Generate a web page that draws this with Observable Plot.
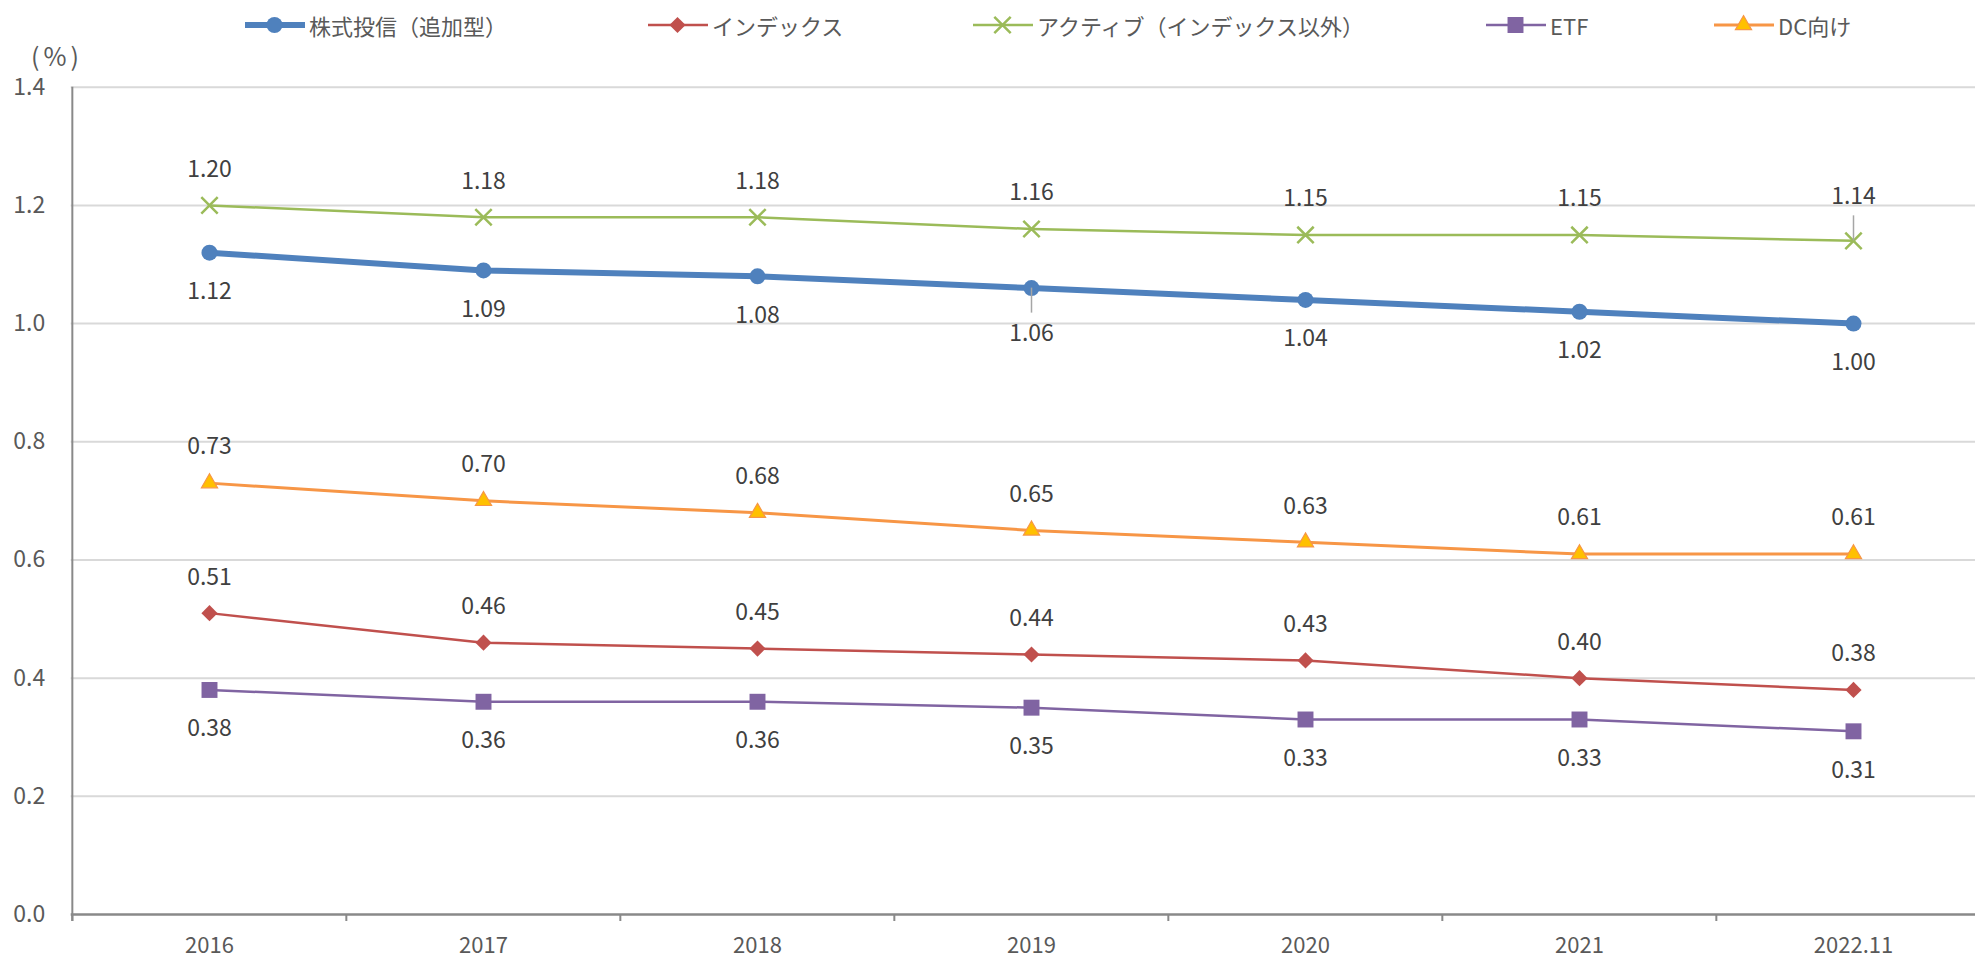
<!DOCTYPE html>
<html>
<head>
<meta charset="utf-8">
<script src="https://cdn.jsdelivr.net/npm/d3@7"></script>
<script src="https://cdn.jsdelivr.net/npm/@observablehq/plot@0.6"></script>
<style>
html, body { margin: 0; padding: 0; background: #fff; overflow: hidden; }
#legend { position: relative; width: 1975px; height: 50px; font-family: "Noto Sans CJK JP", "Noto Sans", sans-serif; font-size: 22px; color: #595959; }
.item { position: absolute; top: 0; height: 50px; display: flex; align-items: center; white-space: nowrap; }
.item svg { display: block; margin-right: 4px; }
#unit { position: absolute; left: 17px; top: 42px; width: 80px; height: 26px; line-height: 26px; text-align: center; font-family: "Noto Sans CJK JP", "Noto Sans", sans-serif; font-size: 25px; letter-spacing: 4px; color: #595959; white-space: nowrap; }
#chart svg { display: block; }
</style>
</head>
<body>
<div id="legend"></div>
<div id="unit">(%)</div>
<div id="chart"></div>
<script>
// ---- data ----
const categories = ["2016", "2017", "2018", "2019", "2020", "2021", "2022.11"];
const stockFunds = [1.12, 1.09, 1.08, 1.06, 1.04, 1.02, 1.00];   // 株式投信（追加型）
const indexFunds = [0.51, 0.46, 0.45, 0.44, 0.43, 0.40, 0.38];   // インデックス
const activeFunds = [1.20, 1.18, 1.18, 1.16, 1.15, 1.15, 1.14];  // アクティブ（インデックス以外）
const etfFunds = [0.38, 0.36, 0.36, 0.35, 0.33, 0.33, 0.31];     // ETF
const dcFunds = [0.73, 0.70, 0.68, 0.65, 0.63, 0.61, 0.61];      // DC向け
const seriesNames = ["株式投信（追加型）", "インデックス", "アクティブ（インデックス以外）", "ETF", "DC向け"];
const yTicks = [0, 0.2, 0.4, 0.6, 0.8, 1.0, 1.2, 1.4];

// ---- styles ----
const FONT = '"Noto Sans CJK JP", "Noto Sans", sans-serif';
const FS = 23;
const series = [
  {name: seriesNames[0], values: stockFunds, color: "#4F81BD", lw: 6, symbol: "circle", r: 8, fill: "#4F81BD", stroke: "none", sw: 0, above: false},
  {name: seriesNames[1], values: indexFunds, color: "#C0504D", lw: 2.5, symbol: "diamond2", r: 7.3, fill: "#C0504D", stroke: "none", sw: 0, above: true},
  {name: seriesNames[2], values: activeFunds, color: "#9BBB59", lw: 2.5, symbol: "times", r: 7.5, fill: "none", stroke: "#9BBB59", sw: 2.5, above: true},
  {name: seriesNames[3], values: etfFunds, color: "#8064A2", lw: 2.5, symbol: "square", r: 9, fill: "#8064A2", stroke: "none", sw: 0, above: false},
  {name: seriesNames[4], values: dcFunds, color: "#F79646", lw: 3, symbol: "triangle", r: 6, fill: "#FFC000", stroke: "#F79646", sw: 1.2, above: true}
];

const rows = series.flatMap(s => categories.map((c, i) => ({cat: c, value: s.values[i], key: s.name})));

// Special callouts (labels pushed further away with leader lines)
const calloutBelow = rows.filter(d => d.key === seriesNames[0] && d.cat === "2019");
const calloutAbove = rows.filter(d => d.key === seriesNames[2] && d.cat === "2022.11");
const isCallout = d => calloutBelow.includes(d) || calloutAbove.includes(d);

// ---- layout ----
const W = 1975, H = 908;
const mL = 70.7, mT = 36.7, mB = 44;
const xRange = [70.7, 1991];
const step = (xRange[1] - xRange[0]) / categories.length;

const marks = [];
marks.push(Plot.gridY(yTicks.filter(t => t > 0), {stroke: "#d9d9d9", strokeOpacity: 1, strokeWidth: 2}));
marks.push(Plot.ruleY([0], {stroke: "#898989", strokeWidth: 2.5}));
marks.push(Plot.ruleX([categories[0]], {x: d => d, y1: 1.4, y2: 0, insetBottom: -7, dx: -step / 2, stroke: "#898989", strokeWidth: 2}));
marks.push(Plot.ruleX(categories, {x: d => d, y1: 0, y2: 0, insetBottom: -7, dx: -step / 2, stroke: "#898989", strokeWidth: 2}));
marks.push(Plot.axisY(yTicks, {tickSize: 0, tickPadding: 26, tickFormat: d => d.toFixed(1), fontSize: FS, fill: "#595959", label: null}));
marks.push(Plot.text(categories, {x: d => d, y: 0, dy: 31, text: d => d, fill: "#595959", fontSize: 22}));

for (const s of series) {
  const data = rows.filter(d => d.key === s.name);
  marks.push(Plot.line(data, {x: "cat", y: "value", stroke: s.color, strokeWidth: s.lw, strokeLinejoin: "round", strokeLinecap: "round"}));
  marks.push(Plot.dot(data, {x: "cat", y: "value", symbol: () => s.symbol, r: s.r, fill: s.fill, stroke: s.stroke, strokeWidth: s.sw}));
}

// leader lines
marks.push(Plot.ruleX(calloutBelow, {x: "cat", y1: "value", y2: "value", insetBottom: -25, stroke: "#a6a6a6", strokeWidth: 1.5}));
marks.push(Plot.ruleX(calloutAbove, {x: "cat", y1: "value", y2: "value", insetTop: -25, stroke: "#a6a6a6", strokeWidth: 1.5}));

// data labels
for (const s of series) {
  const data = rows.filter(d => d.key === s.name && !isCallout(d));
  marks.push(Plot.text(data, {x: "cat", y: "value", text: d => d.value.toFixed(2), dy: s.above ? -36 : 39, fill: "#404040", fontSize: FS}));
}
marks.push(Plot.text(calloutBelow, {x: "cat", y: "value", text: d => d.value.toFixed(2), dy: 46, fill: "#404040", fontSize: FS}));
marks.push(Plot.text(calloutAbove, {x: "cat", y: "value", text: d => d.value.toFixed(2), dy: -44, fill: "#404040", fontSize: FS}));

const chart = Plot.plot({
  width: W,
  height: H,
  marginLeft: mL,
  marginRight: 0,
  marginTop: mT,
  marginBottom: mB,
  x: {type: "point", domain: categories, range: xRange, padding: 0.5, axis: null},
  y: {domain: [0, 1.4], axis: null, label: null},
  symbol: {type: "identity"},
  style: {fontFamily: FONT, fontSize: FS + "px", color: "#595959", background: "#fff", overflow: "visible"},
  marks
});
document.getElementById("chart").appendChild(chart);

// ---- legend ----
const legendX = [245, 648, 973, 1486, 1714];
const symMap = {circle: d3.symbolCircle, diamond2: d3.symbolDiamond2, times: d3.symbolTimes, square: d3.symbolSquare, triangle: d3.symbolTriangle};
const legend = document.getElementById("legend");
series.forEach((s, i) => {
  const item = document.createElement("div");
  item.className = "item";
  item.style.left = legendX[i] + "px";
  const path = d3.symbol(symMap[s.symbol], Math.PI * s.r * s.r)();
  item.innerHTML =
    `<svg width="60" height="50" viewBox="0 0 60 50">` +
    `<line x1="0" y1="25" x2="60" y2="25" stroke="${s.color}" stroke-width="${s.lw}" stroke-linecap="round"/>` +
    `<path d="${path}" transform="translate(29.5,25)" fill="${s.fill}" stroke="${s.stroke}" stroke-width="${s.sw}"/>` +
    `</svg><span>${s.name}</span>`;
  legend.appendChild(item);
});
</script>
</body>
</html>
